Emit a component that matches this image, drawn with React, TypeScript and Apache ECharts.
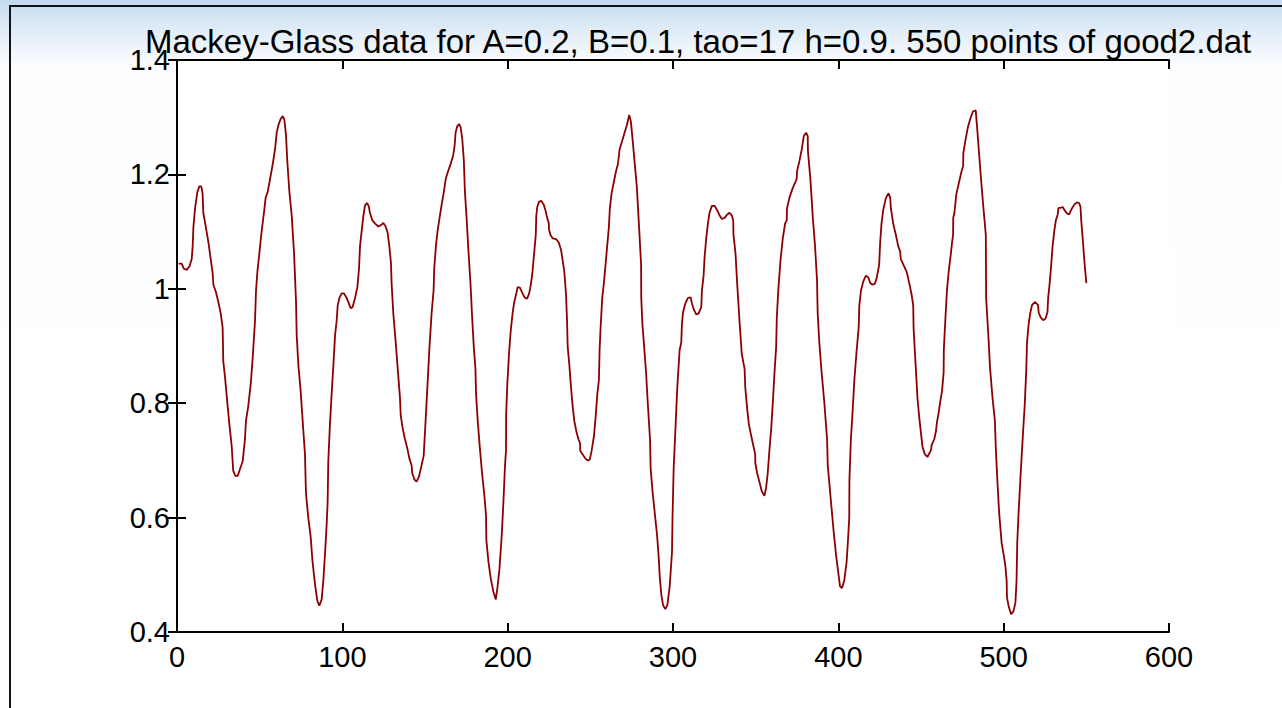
import React, { useEffect, useRef } from "react";
import * as echarts from "echarts";

const TITLE = "Mackey-Glass data for A=0.2, B=0.1, tao=17 h=0.9. 550 points of good2.dat";

const X_TICKS = [0, 100, 200, 300, 400, 500, 600];
const Y_TICKS = [0.4, 0.6, 0.8, 1.0, 1.2, 1.4];

// Sample positions (time index)
const T = [
  1.0, 2.8, 4.2, 5.8, 7.5, 8.9, 9.5, 9.9, 10.9, 12.3, 13.5, 14.7, 15.5, 15.9, 17.5, 19.0, 20.4, 21.6, 22.0, 23.6,
  25.0, 26.4, 27.6, 28.0, 29.0, 30.4, 31.7, 33.1, 34.0, 35.3, 36.7, 38.1, 39.7, 41.1, 41.7, 43.1, 44.6, 45.8, 47.2, 47.8,
  48.6, 49.8, 51.2, 52.6, 53.6, 54.8, 56.3, 57.9, 59.3, 60.3, 61.3, 62.7, 63.9, 64.9, 65.9, 66.7, 67.9, 69.4, 70.8, 72.0,
  72.4, 73.4, 74.8, 76.0, 77.4, 78.0, 79.4, 80.8, 82.0, 83.5, 84.9, 86.1, 87.5, 88.5, 89.5, 90.5, 91.1, 91.5, 92.5, 93.5,
  94.6, 95.6, 96.6, 97.2, 98.2, 99.6, 101.0, 102.6, 104.0, 105.0, 106.2, 107.7, 109.1, 110.1, 110.7, 111.7, 112.7, 113.7, 115.1, 116.1,
  116.7, 118.1, 119.8, 121.8, 123.2, 124.8, 126.2, 127.4, 128.4, 129.4, 129.8, 130.8, 132.3, 133.5, 134.9, 135.3, 136.5, 137.9, 139.3, 140.5,
  141.9, 142.3, 143.5, 144.9, 146.4, 147.8, 149.2, 150.0, 151.2, 152.6, 154.0, 155.2, 155.6, 156.6, 157.6, 158.6, 160.0, 161.2, 162.2, 162.6,
  163.9, 165.5, 167.1, 167.9, 168.5, 169.5, 170.5, 171.5, 172.5, 173.5, 174.1, 175.1, 176.1, 177.5, 178.5, 179.5, 180.5, 180.9, 181.9, 183.1,
  184.5, 185.9, 186.9, 187.1, 188.4, 189.8, 191.4, 192.8, 193.8, 195.0, 196.4, 197.4, 198.4, 199.0, 199.1, 199.8, 200.8, 201.8, 203.0, 204.0,
  205.4, 206.0, 207.4, 209.0, 210.4, 211.8, 213.0, 214.0, 215.0, 216.0, 217.0, 217.3, 217.9, 218.9, 220.3, 221.7, 222.9, 223.9, 224.9, 225.0,
  225.9, 227.3, 229.3, 230.9, 232.3, 233.3, 234.3, 235.3, 235.9, 236.3, 237.3, 238.3, 239.3, 240.3, 241.6, 242.8, 243.8, 243.9, 245.2, 246.8,
  248.2, 249.6, 250.8, 252.2, 253.2, 254.2, 255.2, 255.6, 256.2, 257.2, 258.2, 259.2, 260.2, 261.2, 261.8, 262.8, 264.1, 265.5, 266.7, 267.7,
  269.1, 270.7, 272.1, 273.5, 274.5, 275.5, 276.7, 278.1, 279.5, 280.7, 280.8, 281.5, 282.7, 283.7, 284.7, 286.1, 286.5, 287.6, 289.0, 290.4,
  291.4, 292.0, 293.0, 294.0, 295.4, 296.6, 298.0, 299.4, 299.7, 300.4, 301.4, 302.6, 304.0, 305.0, 305.4, 306.0, 307.4, 309.1, 310.7, 311.5,
  312.7, 314.1, 315.5, 317.1, 317.5, 318.5, 319.1, 320.1, 321.1, 322.1, 323.5, 325.2, 326.8, 328.2, 329.6, 331.2, 332.8, 334.2, 335.6, 336.4,
  336.6, 337.8, 338.8, 340.2, 341.6, 343.3, 343.7, 344.9, 345.9, 347.3, 348.7, 349.7, 349.8, 350.9, 352.3, 353.7, 355.3, 356.3, 357.3, 358.3,
  359.4, 360.4, 361.4, 362.4, 362.8, 363.8, 365.0, 366.4, 367.8, 368.8, 368.9, 370.4, 372.4, 373.8, 374.8, 375.0, 376.5, 377.9, 379.1, 380.5,
  381.5, 381.6, 383.1, 384.5, 385.9, 387.1, 387.5, 388.5, 389.9, 391.5, 393.2, 393.6, 394.6, 395.6, 397.0, 398.6, 400.0, 401.0, 402.2, 403.6,
  405.0, 406.0, 406.6, 406.7, 407.6, 408.7, 409.7, 411.1, 412.3, 412.7, 413.7, 415.1, 416.7, 418.1, 419.3, 420.7, 422.1, 423.3, 424.7, 425.3,
  426.1, 427.3, 428.8, 430.4, 431.4, 431.8, 433.2, 434.8, 436.2, 437.4, 437.8, 439.4, 441.4, 442.9, 444.3, 445.3, 445.5, 446.5, 447.9, 448.9,
  449.9, 450.9, 452.3, 453.9, 455.9, 456.5, 458.0, 459.0, 459.6, 460.6, 461.6, 462.7, 463.7, 463.8, 464.7, 465.7, 466.7, 467.8, 468.8, 469.4,
  469.5, 470.2, 471.4, 472.9, 474.5, 475.5, 475.6, 476.9, 478.4, 480.0, 481.4, 483.1, 484.1, 485.1, 486.5, 487.8, 489.2, 489.3, 489.4, 490.6,
  491.8, 493.3, 494.7, 495.3, 496.3, 497.3, 498.8, 500.0, 501.0, 501.8, 502.0, 503.1, 504.5, 505.9, 507.1, 507.8, 508.2, 509.0, 510.2, 511.6,
  512.7, 513.7, 514.1, 515.1, 516.1, 517.1, 518.8, 520.8, 521.2, 522.4, 523.9, 525.3, 526.5, 526.9, 527.6, 528.6, 529.6, 530.6, 531.6, 532.7,
  533.1, 534.7, 535.7, 536.7, 538.2, 539.6, 541.2, 542.9, 544.3, 545.7, 546.5, 546.9, 547.8, 548.8, 550.0,
];

// Series values
const V = [
  1.044, 1.044, 1.035, 1.033, 1.039, 1.052, 1.075, 1.107, 1.140, 1.169, 1.179, 1.179, 1.166, 1.133, 1.107, 1.081, 1.052, 1.026, 1.007, 0.994,
  0.977, 0.958, 0.932, 0.873, 0.847, 0.802, 0.763, 0.724, 0.682, 0.673, 0.673, 0.685, 0.698, 0.737, 0.769, 0.795, 0.834, 0.880, 0.945, 0.997,
  1.029, 1.062, 1.101, 1.133, 1.159, 1.169, 1.192, 1.218, 1.244, 1.273, 1.286, 1.297, 1.302, 1.296, 1.270, 1.224, 1.172, 1.127, 1.062, 0.977,
  0.919, 0.867, 0.821, 0.769, 0.711, 0.643, 0.600, 0.568, 0.522, 0.483, 0.454, 0.446, 0.457, 0.490, 0.535, 0.587, 0.626, 0.698, 0.763, 0.815,
  0.867, 0.919, 0.945, 0.971, 0.984, 0.992, 0.992, 0.984, 0.974, 0.966, 0.968, 0.984, 1.003, 1.036, 1.075, 1.101, 1.127, 1.146, 1.150, 1.143,
  1.133, 1.120, 1.114, 1.109, 1.111, 1.115, 1.109, 1.098, 1.075, 1.046, 1.010, 0.958, 0.906, 0.860, 0.808, 0.779, 0.756, 0.737, 0.721, 0.704,
  0.691, 0.678, 0.667, 0.663, 0.672, 0.690, 0.708, 0.750, 0.815, 0.893, 0.958, 0.997, 1.036, 1.075, 1.101, 1.120, 1.146, 1.166, 1.185, 1.193,
  1.205, 1.218, 1.234, 1.250, 1.273, 1.284, 1.288, 1.283, 1.263, 1.224, 1.172, 1.127, 1.075, 1.010, 0.951, 0.899, 0.860, 0.815, 0.769, 0.724,
  0.678, 0.639, 0.604, 0.561, 0.522, 0.493, 0.470, 0.457, 0.477, 0.509, 0.568, 0.626, 0.691, 0.717, 0.782, 0.834, 0.886, 0.925, 0.958, 0.977,
  0.994, 1.003, 1.002, 0.992, 0.984, 0.983, 0.992, 1.007, 1.029, 1.062, 1.094, 1.127, 1.143, 1.152, 1.154, 1.148, 1.137, 1.124, 1.114, 1.104,
  1.094, 1.088, 1.087, 1.081, 1.068, 1.049, 1.029, 0.990, 0.945, 0.899, 0.867, 0.828, 0.795, 0.769, 0.750, 0.737, 0.730, 0.717, 0.711, 0.704,
  0.700, 0.701, 0.717, 0.743, 0.776, 0.815, 0.841, 0.893, 0.932, 0.984, 1.010, 1.042, 1.075, 1.107, 1.140, 1.166, 1.185, 1.205, 1.218, 1.244,
  1.257, 1.273, 1.286, 1.304, 1.293, 1.263, 1.224, 1.179, 1.107, 1.042, 0.984, 0.938, 0.893, 0.854, 0.802, 0.737, 0.685, 0.646, 0.607, 0.568,
  0.529, 0.496, 0.464, 0.447, 0.440, 0.447, 0.480, 0.540, 0.600, 0.685, 0.750, 0.828, 0.893, 0.906, 0.938, 0.958, 0.974, 0.984, 0.985, 0.974,
  0.963, 0.955, 0.957, 0.968, 0.997, 1.023, 1.055, 1.088, 1.114, 1.133, 1.145, 1.145, 1.137, 1.128, 1.122, 1.124, 1.130, 1.133, 1.128, 1.120,
  1.094, 1.062, 1.010, 0.945, 0.886, 0.860, 0.828, 0.789, 0.763, 0.743, 0.724, 0.711, 0.695, 0.678, 0.662, 0.646, 0.638, 0.652, 0.678, 0.717,
  0.756, 0.802, 0.854, 0.899, 0.951, 1.003, 1.049, 1.088, 1.114, 1.120, 1.140, 1.159, 1.176, 1.185, 1.192, 1.205, 1.224, 1.244, 1.267, 1.273,
  1.267, 1.241, 1.192, 1.127, 1.075, 1.016, 0.958, 0.906, 0.854, 0.802, 0.737, 0.691, 0.659, 0.626, 0.581, 0.535, 0.503, 0.480, 0.477, 0.490,
  0.522, 0.568, 0.600, 0.665, 0.737, 0.789, 0.841, 0.893, 0.932, 0.971, 0.997, 1.013, 1.023, 1.020, 1.010, 1.007, 1.009, 1.020, 1.042, 1.081,
  1.114, 1.140, 1.159, 1.167, 1.159, 1.140, 1.114, 1.094, 1.075, 1.065, 1.052, 1.042, 1.029, 1.010, 0.990, 0.971, 0.932, 0.880, 0.808, 0.776,
  0.750, 0.724, 0.711, 0.706, 0.717, 0.727, 0.737, 0.750, 0.766, 0.782, 0.802, 0.821, 0.854, 0.893, 0.945, 0.997, 1.029, 1.055, 1.081, 1.094,
  1.124, 1.133, 1.166, 1.185, 1.205, 1.215, 1.237, 1.260, 1.283, 1.299, 1.310, 1.312, 1.276, 1.237, 1.185, 1.140, 1.094, 1.042, 0.984, 0.925,
  0.860, 0.808, 0.769, 0.717, 0.659, 0.607, 0.555, 0.535, 0.516, 0.490, 0.460, 0.444, 0.431, 0.436, 0.451, 0.490, 0.555, 0.607, 0.672, 0.743,
  0.795, 0.860, 0.906, 0.938, 0.958, 0.971, 0.977, 0.972, 0.958, 0.950, 0.945, 0.948, 0.959, 0.984, 1.003, 1.036, 1.075, 1.101, 1.120, 1.130,
  1.141, 1.142, 1.143, 1.138, 1.132, 1.130, 1.140, 1.148, 1.151, 1.150, 1.143, 1.120, 1.088, 1.049, 1.010,
];

const FONT = '"Liberation Sans", Arial, Helvetica, sans-serif';

export default function App() {
  const ref = useRef<HTMLDivElement>(null);

  useEffect(() => {
    if (!ref.current) return;
    const chart = echarts.init(ref.current, undefined, { renderer: "svg" });
    const n = Math.min(T.length, V.length);
    const data: [number, number][] = [];
    for (let i = 0; i < n; i++) data.push([T[i], V[i]]);

    const xMin = X_TICKS[0];
    const xMax = X_TICKS[X_TICKS.length - 1];
    const xInt = X_TICKS[1] - X_TICKS[0];
    const yMin = Y_TICKS[0];
    const yMax = Y_TICKS[Y_TICKS.length - 1];
    const yInt = 0.2;

    const axisLine = { show: true, lineStyle: { color: "#000", width: 2 } };
    const axisTick = { show: true, inside: true, length: 9, lineStyle: { color: "#000", width: 2 } };
    const yFmt = (v: number) => String(Math.round(v * 10) / 10);

    chart.setOption({
      animation: false,
      backgroundColor: {
        type: "linear",
        x: 0,
        y: 0,
        x2: 0,
        y2: 1,
        colorStops: [
          { offset: 0, color: "#c4daef" },
          { offset: 0.045, color: "#e2edf8" },
          { offset: 0.095, color: "#fdfeff" },
          { offset: 1, color: "#ffffff" },
        ],
      },
      graphic: [
        {
          type: "rect",
          z: 0,
          shape: { x: 10, y: 6, width: 1300, height: 740 },
          style: { fill: "none", stroke: "#151515", lineWidth: 2 },
        },
        {
          type: "text",
          z: 10,
          x: 145,
          y: 41,
          style: {
            text: TITLE,
            font: `33px ${FONT}`,
            fill: "#000",
            align: "left",
            verticalAlign: "middle",
          },
        },
      ],
      grid: {
        left: 177,
        top: 60,
        width: 992,
        height: 572,
        show: true,
        backgroundColor: "#ffffff",
        borderWidth: 0,
      },
      xAxis: [
        {
          type: "value",
          position: "bottom",
          min: xMin,
          max: xMax,
          interval: xInt,
          axisLine,
          axisTick,
          splitLine: { show: false },
          axisLabel: { color: "#000", fontSize: 29, fontFamily: FONT, margin: 10 },
        },
        {
          type: "value",
          position: "top",
          min: xMin,
          max: xMax,
          interval: xInt,
          axisLine,
          axisTick,
          splitLine: { show: false },
          axisLabel: { show: false },
        },
      ],
      yAxis: [
        {
          type: "value",
          position: "left",
          min: yMin,
          max: yMax,
          interval: yInt,
          axisLine,
          axisTick,
          splitLine: { show: false },
          axisLabel: { color: "#000", fontSize: 29, fontFamily: FONT, margin: 7, formatter: yFmt },
        },
        {
          type: "value",
          position: "right",
          min: yMin,
          max: yMax,
          interval: yInt,
          axisLine,
          axisTick,
          splitLine: { show: false },
          axisLabel: { show: false },
        },
      ],
      series: [
        {
          type: "line",
          xAxisIndex: 0,
          yAxisIndex: 0,
          data,
          showSymbol: false,
          symbol: "none",
          lineStyle: { color: "#8b0000", width: 1.8 },
          z: 3,
        },
      ],
    });

    return () => chart.dispose();
  }, []);

  return <div ref={ref} style={{ position: "fixed", left: 0, top: 0, width: 1282, height: 708 }} />;
}
